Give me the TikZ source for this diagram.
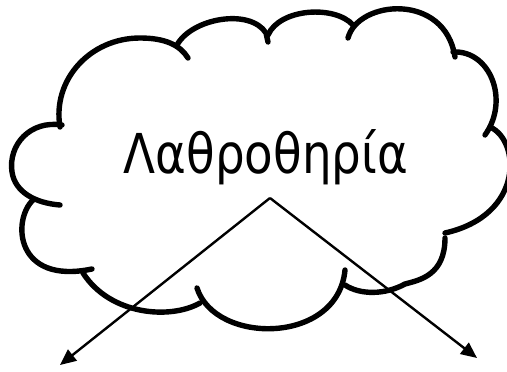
\documentclass[tikz,border=0pt]{standalone}
\usepackage{fontspec}
\setmainfont{DejaVu Sans}
\usetikzlibrary{arrows.meta}
\tikzset{
  cloudline/.style={line width=5.4pt, line cap=round, black},
  pointer/.style={line width=2.4pt, -{Triangle[length=16pt,width=14pt]}},
  titletext/.style={font=\fontsize{55}{60}\selectfont, inner sep=0pt, anchor=base, xscale=0.85}
}
\begin{document}
\begin{tikzpicture}[x=1pt,y=-1pt]
\useasboundingbox (0,0) rectangle (507,372);
\begin{scope}
\clip (0,0) rectangle (507,372);
% cloud bumps
\draw[cloudline] (62,125) .. controls (30,120) and (8,145) .. (12,172) .. controls (15,192) and (35,203) .. (60,205);
\draw[cloudline] (60,127) .. controls (52,80) and (90,38) .. (140,38) .. controls (165,38) and (180,45) .. (188,58);
\draw[cloudline] (177,45) .. controls (192,18) and (250,8) .. (266,33) -- (268,42);
\draw[cloudline] (268,35) .. controls (280,8) and (335,5) .. (353,25);
\draw[cloudline] (348,38) .. controls (358,0) and (445,-8) .. (455,57);
\draw[cloudline] (453,52) .. controls (490,50) and (510,100) .. (485,135);
\draw[cloudline] (490,127) .. controls (520,140) and (525,215) .. (445,233);
\draw[cloudline] (445,238) .. controls (445,275) and (420,280) .. (405,284) .. controls (385,295) and (360,295) .. (345,285);
\draw[cloudline] (345,270) .. controls (338,345) and (215,345) .. (197,288);
\draw[cloudline] (200,303) .. controls (170,320) and (110,315) .. (83,273);
\draw[cloudline] (33,200) .. controls (12,220) and (15,285) .. (92,269);
\end{scope}
% title
\node[titletext] (title) at (266,173) {Λαθροθηρία};
% arrows
\coordinate (apex) at (270,198);
\coordinate (left) at (60,365);
\coordinate (right) at (477,358);
\draw[pointer] (apex) -- (left);
\draw[pointer] (apex) -- (right);
\end{tikzpicture}
\end{document}
